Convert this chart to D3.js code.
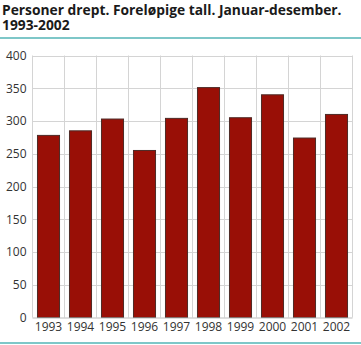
<!DOCTYPE html>
<html>
<head>
<meta charset="utf-8">
<script src="https://cdn.jsdelivr.net/npm/d3@7"></script>
<style>
  html, body { margin: 0; padding: 0; background: #fff; }
  svg { display: block; font-family: "Open Sans", "DejaVu Sans", sans-serif; }
</style>
</head>
<body>
<svg id="chart" width="361" height="345"></svg>
<script>
// Personer drept, 1993-2002
const years = ["1993", "1994", "1995", "1996", "1997", "1998", "1999", "2000", "2001", "2002"];
const killed = [278, 285, 303, 255, 304, 351, 305, 340, 274, 310];
const yTicks = [0, 50, 100, 150, 200, 250, 300, 350, 400];
const titleLines = ["Personer drept. Foreløpige tall. Januar-desember.", "1993-2002"];

const svg = d3.select("#chart");
const W = 361, H = 345;
const m = { top: 55.5, right: 8.5, bottom: 27.5, left: 32.5 };

const x = d3.scaleBand().domain(years).range([m.left, W - m.right]).paddingInner(0.28).paddingOuter(0.14);
const y = d3.scaleLinear().domain([0, 400]).range([H - m.bottom, m.top]);

// Title
svg.append("g").selectAll("text").data(titleLines).join("text")
  .attr("x", 2).attr("y", (d, i) => 15 + i * 14.5)
  .attr("font-size", 13.8).attr("font-weight", "bold").attr("fill", "#1a1a1a")
  .text(d => d);

// Teal rules
svg.append("rect").attr("x", 0).attr("y", 37).attr("width", W).attr("height", 2).attr("fill", "#7ec7c8");
svg.append("rect").attr("x", 0).attr("y", 342).attr("width", W).attr("height", 2).attr("fill", "#7ec7c8");

// Horizontal grid
svg.append("g").selectAll("line").data(yTicks.filter(t => t > 0)).join("line")
  .attr("x1", m.left).attr("x2", W - m.right)
  .attr("y1", d => Math.round(y(d)) + 0.5).attr("y2", d => Math.round(y(d)) + 0.5)
  .attr("stroke", "#d4d4d4").attr("stroke-width", 1);

// Vertical grid at band boundaries
const step = x.step();
const bounds = d3.range(years.length + 1).map(i => m.left + i * step);
svg.append("g").selectAll("line").data(bounds).join("line")
  .attr("x1", d => d).attr("x2", d => d)
  .attr("y1", m.top).attr("y2", H - m.bottom)
  .attr("stroke", "#d4d4d4").attr("stroke-width", 1);

// Bars
svg.append("g").selectAll("rect").data(years).join("rect")
  .attr("x", d => x(d) + 0.5)
  .attr("y", (d, i) => y(killed[i]))
  .attr("width", x.bandwidth() - 1)
  .attr("height", (d, i) => y(0) - y(killed[i]))
  .attr("fill", "#990f06")
  .attr("stroke", "#4d2a26").attr("stroke-width", 1);

// Baseline
svg.append("line").attr("x1", m.left).attr("x2", W - m.right)
  .attr("y1", y(0) + 0.5).attr("y2", y(0) + 0.5)
  .attr("stroke", "#bdbdbd");

// Y axis labels
const yAxis = d3.axisLeft(y).tickValues(yTicks).tickSize(0).tickPadding(6);
const gy = svg.append("g").attr("transform", `translate(${m.left},0)`).call(yAxis);
gy.select(".domain").remove();
gy.selectAll("text").attr("font-size", 12).attr("fill", "#333").attr("font-family", "'Open Sans', 'DejaVu Sans', sans-serif");

// X axis labels
const xAxis = d3.axisBottom(x).tickSize(0).tickPadding(5);
const gx = svg.append("g").attr("transform", `translate(0,${y(0)})`).call(xAxis);
gx.select(".domain").remove();
gx.selectAll("text").attr("font-size", 12).attr("fill", "#333").attr("font-family", "'Open Sans', 'DejaVu Sans', sans-serif");
</script>
</body>
</html>
